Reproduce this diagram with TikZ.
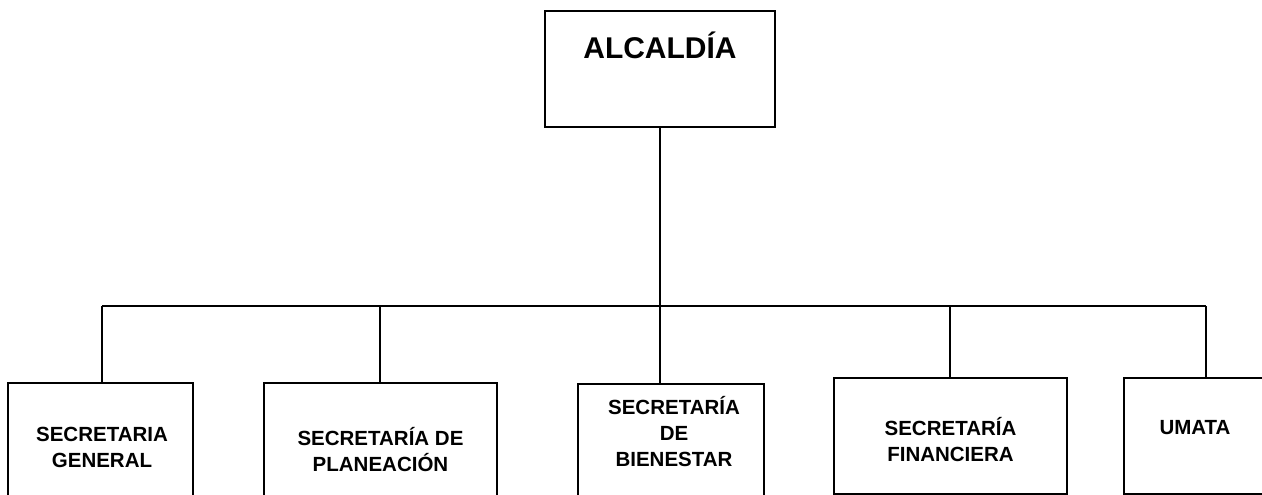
\documentclass[tikz,border=0pt]{standalone}
\usepackage{fontspec}
\setmainfont{Liberation Sans}
\usetikzlibrary{positioning}

\begin{document}
\begin{tikzpicture}[
    x=1pt, y=-1pt,
    line width=1.6pt,
    box/.style={%
      draw,
      rectangle,
      anchor=north,
      inner sep=0pt,
    },
    lbl/.style={%
      align=center,
      font=\fontsize{20.5}{26}\selectfont\bfseries,
    },
  ]
    \useasboundingbox (0,0) rectangle (1262,495);
    \clip (0,0) rectangle (1262,495);

    % boxes
    \node [box, minimum width=230pt, minimum height=116pt] (A) at (660,10) {};
    \node [box, minimum width=185pt, minimum height=160pt] (B) at (100.5,382) {};
    \node [box, minimum width=233pt, minimum height=160pt] (C) at (380.5,382) {};
    \node [box, minimum width=186pt, minimum height=160pt] (D) at (671,383) {};
    \node [box, minimum width=233pt, minimum height=116pt] (E) at (950.5,377) {};
    \node [box, minimum width=170pt, minimum height=116pt] (F) at (1209,377) {};

    % texts
    \node [font=\fontsize{30}{36}\selectfont\bfseries] (At) at (660,45) {ALCALDÍA};
    \node [lbl] (Bt) at (102,447.5) {SECRETARIA\\GENERAL};
    \node [lbl] (Ct) at (380.5,450) {SECRETARÍA DE\\PLANEACIÓN};
    \node [lbl] (Dt) at (674,432) {SECRETARÍA\\DE\\BIENESTAR};
    \node [lbl] (Et) at (950.5,439.5) {SECRETARÍA\\FINANCIERA};
    \node [lbl] (Ft) at (1195,428) {UMATA};

    % bus
    \coordinate (L) at (102,306);
    \coordinate (R) at (1206,306);
    \coordinate (P) at (380,306);
    \coordinate (M) at (660,306);
    \coordinate (Q) at (950,306);

    \draw (L) -- (R);
    \draw (A.south) -- (M);
    \draw (L) -- (L |- B.north);
    \draw (P) -- (P |- C.north);
    \draw (M) -- (M |- D.north);
    \draw (Q) -- (Q |- E.north);
    \draw (R) -- (R |- F.north);

\end{tikzpicture}
\end{document}
